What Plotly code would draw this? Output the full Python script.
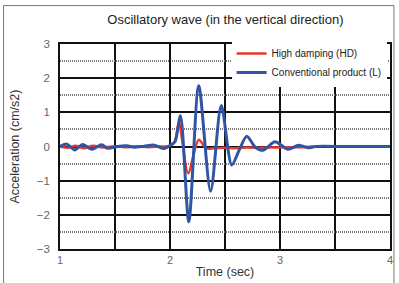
import plotly.graph_objects as go

# Conventional product (L) - blue
conv_t = [1.0, 1.063, 1.135, 1.207, 1.288, 1.378, 1.432, 1.523, 1.604, 1.676, 1.766, 1.856, 1.946,
          2.0, 2.045, 2.095, 2.171, 2.261, 2.369, 2.466, 2.561, 2.63, 2.698, 2.775, 2.847, 2.955,
          3.072, 3.171, 3.261, 3.32, 3.6, 4.0]
conv_a = [0.0, 0.07, -0.10, 0.06, -0.08, 0.05, -0.05, 0.0, 0.02, -0.02, 0.01, 0.04, -0.06,
          0.03, 0.14, 0.9, -2.2, 1.78, -1.31, 1.2, -0.54, -0.1, 0.3, -0.02, -0.11, 0.14,
          -0.08, 0.04, -0.04, 0.0, 0.0, 0.0]

# High damping (HD) - red
hd_t = [1.0, 1.07, 1.14, 1.22, 1.30, 1.40, 1.50, 1.60, 1.70, 1.80, 1.90, 2.0, 2.045, 2.081,
        2.165, 2.261, 2.33, 2.4, 2.5, 2.6, 2.7, 2.8, 2.9, 3.0, 3.1, 3.2, 3.3]
hd_a = [0.0, -0.04, 0.02, -0.05, 0.02, -0.03, 0.01, -0.02, 0.01, -0.02, 0.0, 0.02, 0.15, 0.71,
        -0.78, 0.2, -0.06, -0.05, -0.04, -0.05, -0.03, -0.04, -0.03, -0.03, -0.02, -0.02, 0.0]

x_ticks = [1, 2, 3, 4]
y_ticks = [-3, -2, -1, 0, 1, 2, 3]
y_tick_labels = ["\u22123", "\u22122", "\u22121", "0", "1", "2", "3"]

fig = go.Figure()
fig.add_trace(go.Scatter(x=hd_t, y=hd_a, mode="lines", name="High damping (HD)",
                         line=dict(color="#e8392a", width=2.5, shape="spline", smoothing=0.8)))
fig.add_trace(go.Scatter(x=conv_t, y=conv_a, mode="lines", name="Conventional product (L)",
                         line=dict(color="#2f55a4", width=3, shape="spline", smoothing=0.8)))

fig.update_layout(
    width=399, height=283,
    margin=dict(l=60, r=6, t=44, b=31),
    paper_bgcolor="white", plot_bgcolor="white",
    font=dict(family="Liberation Sans, Arial, sans-serif", color="#333"),
    title=dict(text="Oscillatory wave (in the vertical direction)", x=0.565, xanchor="center",
               y=0.93, yanchor="middle", font=dict(size=13, color="#222")),
    showlegend=True,
    legend=dict(x=0.52, y=1.025, xanchor="left", yanchor="top", bgcolor="white",
                borderwidth=0, font=dict(family="Liberation Sans, Arial, sans-serif", size=10, color="#222"),
                tracegroupgap=0, itemwidth=30),
    xaxis=dict(range=[1, 4], tickvals=x_ticks, ticktext=[str(v) for v in x_ticks],
               showgrid=True, gridcolor="#111", gridwidth=1.5,
               minor=dict(dtick=0.5, showgrid=True, gridcolor="#111", gridwidth=1.5),
               showline=True, linecolor="#111", linewidth=1.5, mirror=True,
               ticks="", zeroline=False,
               tickfont=dict(size=11, color="#666"),
               title=dict(text="Time (sec)", font=dict(size=12.5, color="#333"), standoff=2)),
    yaxis=dict(range=[-3, 3], tickvals=y_ticks, ticktext=y_tick_labels,
               showgrid=True, gridcolor="#111", gridwidth=1.5,
               minor=dict(dtick=0.5, showgrid=True, gridcolor="#777", gridwidth=1.5, griddash="1px,1px"),
               showline=True, linecolor="#111", linewidth=1.5, mirror=True,
               ticks="", zeroline=False, ticklabelstandoff=6,
               tickfont=dict(size=11.5, color="#666"),
               title=dict(text="Acceleration (cm/s2)", font=dict(size=12.5, color="#333"), standoff=14)),
    shapes=[dict(type="rect", xref="paper", yref="paper", x0=-0.171, x1=1.012, y0=-0.3, y1=1.1875,
                 line=dict(color="#777", width=1), fillcolor="rgba(0,0,0,0)", layer="below")],
)

fig.write_html("out.html", config={"displayModeBar": False},
               post_script="document.body.style.margin='0';document.body.style.overflow='hidden';")
